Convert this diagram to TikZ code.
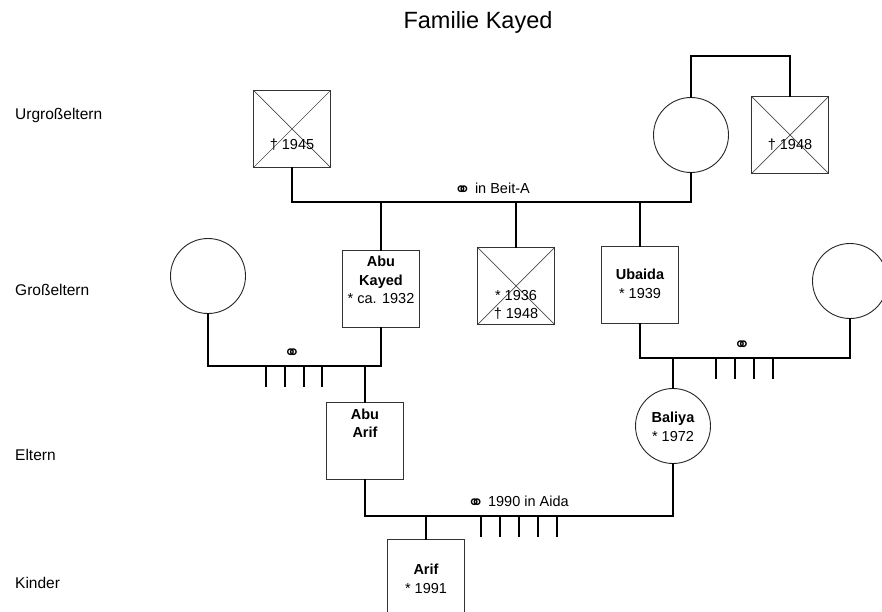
\documentclass[tikz,border=0pt]{standalone}
\usepackage{fontspec}
\setmainfont{Liberation Sans}
\newfontfamily\symfont{DejaVu Sans}
\usepackage{tikz}
\usetikzlibrary{positioning}
\newcommand{\wed}{\raisebox{-3pt}{\symfont\fontsize{20}{18}\selectfont\char"26AD}}

\begin{document}
\begin{tikzpicture}[x=1pt, y=-1pt,
        male/.style={draw=black!80, line width=1.3pt, fill=white,
                     minimum size=77pt, inner sep=0pt},
        female/.style={circle, draw=black!85, line width=0.9pt, fill=white,
                       minimum size=75pt, inner sep=0pt},
        dead/.style={path picture={
            \draw[black!70, line width=0.7pt]
              (path picture bounding box.north west) -- (path picture bounding box.south east)
              (path picture bounding box.north east) -- (path picture bounding box.south west);}},
        txt/.style={align=center, font=\fontsize{14.5}{18.5}\selectfont, inner sep=0pt},
        row/.style={anchor=west, font=\fontsize{15.5}{17}\selectfont, inner sep=0pt},
        bond/.style={line width=2.4pt, line cap=rect}]
      \useasboundingbox (0,0) rectangle (882,612);
      \node[font=\fontsize{23.5}{26}\selectfont] (title) at (478,22) {Familie Kayed};
      % generations
      \node[row] (r1) at (15,115) {Urgroßeltern};
      \node[row] (r2) at (15,290) {Großeltern};
      \node[row] (r3) at (15,455) {Eltern};
      \node[row] (r4) at (15,583) {Kinder};
      % persons
      \node[male, dead]   (ugv)   at (292,129) {};
      \node[female]       (ugm)   at (691,135) {};
      \node[male, dead]   (ugr)   at (790,135) {};
      \node[female]       (gml)   at (208,276) {};
      \node[male]         (abuk)  at (381,289) {};
      \node[male, dead]   (onkel) at (516,286) {};
      \node[male]         (ubai)  at (640,285) {};
      \node[female]       (gmr)   at (850,281) {};
      \node[male]         (abua)  at (365,441) {};
      \node[female]       (bali)  at (673,426) {};
      \node[male]         (arif)  at (426,578) {};
      % texts
      \node[txt] (tugv)   at ([yshift=-16pt]ugv.center)   {† 1945};
      \node[txt] (tugr)   at ([yshift=-10pt]ugr.center)   {† 1948};
      \node[txt] (tabuk)  at ([yshift=9pt]abuk.center)    {\textbf{Abu}\\\textbf{Kayed}\\* ca. 1932};
      \node[txt] (tonkel) at ([yshift=-19pt]onkel.center) {* 1936\\† 1948};
      \node[txt] (tubai)  at ([yshift=1pt]ubai.center)    {\textbf{Ubaida}\\* 1939};
      \node[txt] (tabua)  at ([yshift=18pt]abua.center)   {\textbf{Abu}\\\textbf{Arif}};
      \node[txt] (tbali)  at ([yshift=-1pt]bali.center)   {\textbf{Baliya}\\* 1972};
      \node[txt] (tarif)  at ([yshift=-1pt]arif.center)   {\textbf{Arif}\\* 1991};
      % marriages
      \coordinate (m1) at (0,202);
      \coordinate (m2) at (0,366);
      \coordinate (m3) at (0,358);
      \coordinate (m4) at (0,516);
      \draw[bond] (ugm.north) -- ++(0,-41) -| (ugr.north);
      \draw[bond] (ugv.south) -- (ugv |- m1) -- (ugm |- m1) -- (ugm.south);
      \draw[bond] (abuk.north) -- (abuk |- m1);
      \draw[bond] (onkel.north) -- (onkel |- m1);
      \draw[bond] (ubai.north) -- (ubai |- m1);
      \node[txt] (w1) at (492,190) {\wed{} in Beit-A};
      \draw[bond] (gml.south) -- (gml |- m2) -- (abuk |- m2) -- (abuk.south);
      \draw[bond] (abua.north) -- (abua |- m2);
      \foreach \x in {266,285,304,322} \draw[bond] (\x,366) -- (\x,386);
      \node[txt] (w2) at (292,354) {\wed};
      \draw[bond] (ubai.south) -- (ubai |- m3) -- (gmr |- m3) -- (gmr.south);
      \draw[bond] (bali.north) -- (bali |- m3);
      \foreach \x in {716,735,754,773} \draw[bond] (\x,358) -- (\x,378);
      \node[txt] (w3) at (742,346) {\wed};
      \draw[bond] (abua.south) -- (abua |- m4) -- (bali |- m4) -- (bali.south);
      \draw[bond] (arif.north) -- (arif |- m4);
      \foreach \x in {481,500,519,538,557} \draw[bond] (\x,516) -- (\x,536);
      \node[txt] (w4) at (518,503) {\wed{} 1990 in Aida};
    \end{tikzpicture}
\end{document}
